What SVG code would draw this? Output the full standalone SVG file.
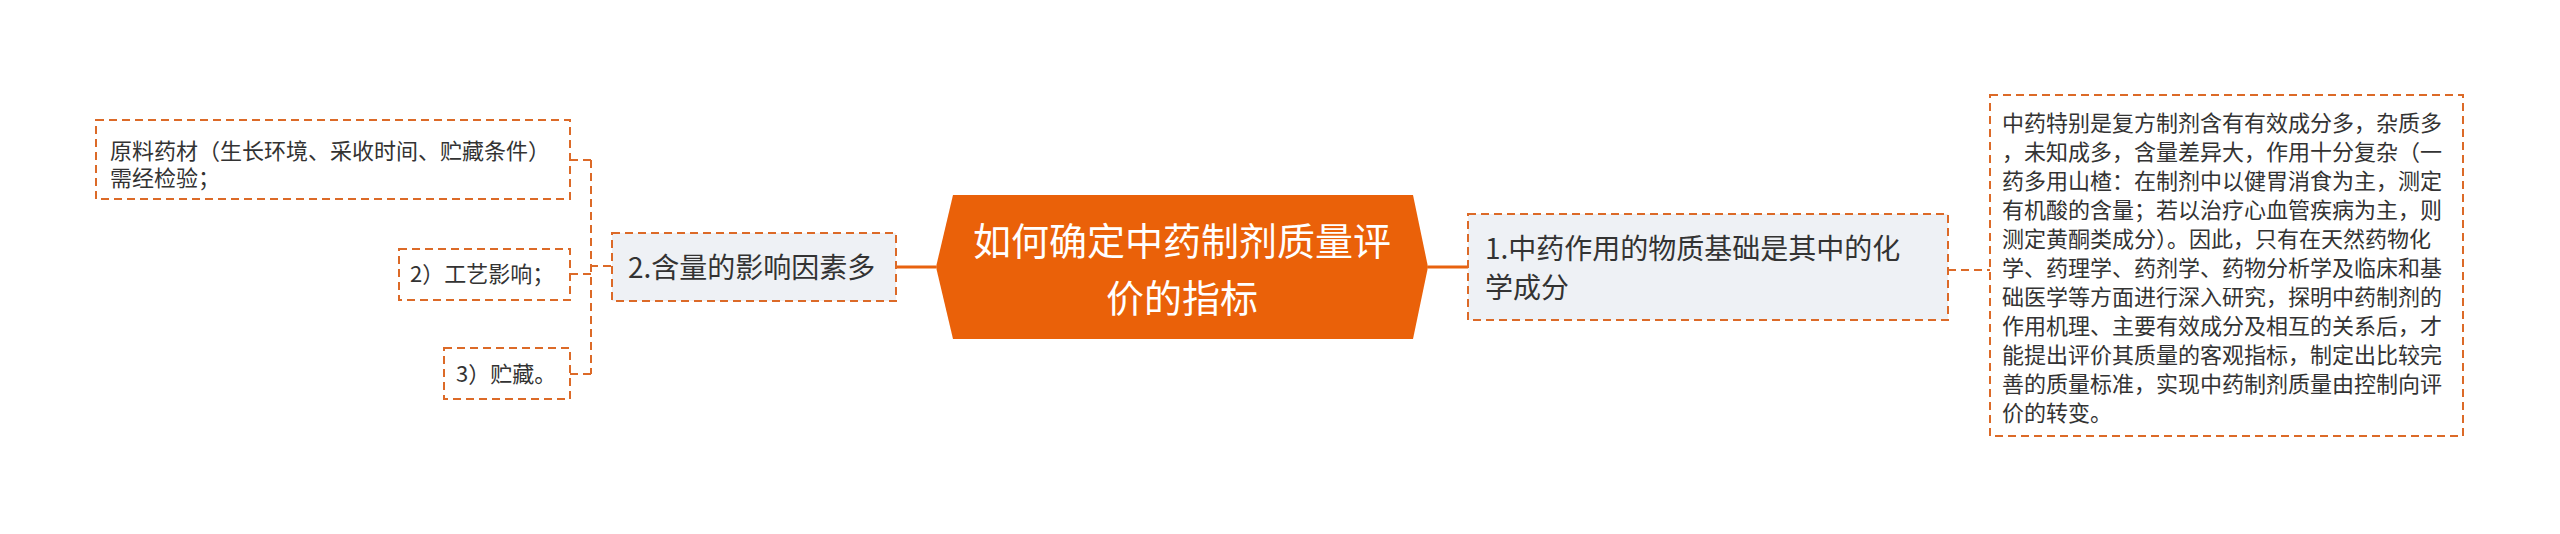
<svg xmlns="http://www.w3.org/2000/svg" width="2560" height="534" viewBox="0 0 2560 534">
<style>
.t{font-family:"Noto Sans CJK SC","Noto Sans",sans-serif;fill:#333333}
.box{fill:#ffffff;stroke:#DC6A28;stroke-width:2;stroke-dasharray:8 5}
.gbox{fill:#EEF1F5;stroke:#DC6A28;stroke-width:2;stroke-dasharray:8 5}
.solid{fill:none;stroke:#E8620E;stroke-width:3}
.dash{fill:none;stroke:#DC6A28;stroke-width:2;stroke-dasharray:8 5}
</style>
<rect width="2560" height="534" fill="#ffffff"/>
<g id="connectors">
<path class="solid" d="M936,267 H896"/>
<path class="solid" d="M1428,267 H1468"/>
<path class="dash" d="M611,266 H591"/>
<path class="dash" d="M591,160 V374"/>
<path class="dash" d="M570,160 H591"/>
<path class="dash" d="M570,274 H591"/>
<path class="dash" d="M570,374 H591"/>
<path class="dash" d="M1948,270 H1990"/>
</g>
<g id="center">
<polygon points="953,195 1413,195 1428,267 1413,339 953,339 936,267" fill="#EA6109"/>
<text class="t" x="1182" y="255" font-size="38" text-anchor="middle" style="fill:#ffffff">如何确定中药制剂质量评</text>
<text class="t" x="1182" y="312" font-size="38" text-anchor="middle" style="fill:#ffffff">价的指标</text>
</g>
<g id="node1">
<rect class="gbox" x="1468" y="214" width="480" height="106"/>
<text class="t" x="1485" y="259" font-size="28">1.中药作用的物质基础是其中的化</text>
<text class="t" x="1485" y="298" font-size="28">学成分</text>
</g>
<g id="node1-detail">
<rect class="box" x="1990" y="95" width="473" height="341"/>
<text class="t" font-size="22">
<tspan x="2002" y="131">中药特别是复方制剂含有有效成分多，杂质多</tspan>
<tspan x="2002" y="160">，未知成多，含量差异大，作用十分复杂（一</tspan>
<tspan x="2002" y="189">药多用山楂：在制剂中以健胃消食为主，测定</tspan>
<tspan x="2002" y="218">有机酸的含量；若以治疗心血管疾病为主，则</tspan>
<tspan x="2002" y="247">测定黄酮类成分）。因此，只有在天然药物化</tspan>
<tspan x="2002" y="276">学、药理学、药剂学、药物分析学及临床和基</tspan>
<tspan x="2002" y="305">础医学等方面进行深入研究，探明中药制剂的</tspan>
<tspan x="2002" y="334">作用机理、主要有效成分及相互的关系后，才</tspan>
<tspan x="2002" y="363">能提出评价其质量的客观指标，制定出比较完</tspan>
<tspan x="2002" y="392">善的质量标准，实现中药制剂质量由控制向评</tspan>
<tspan x="2002" y="421">价的转变。</tspan>
</text>
</g>
<g id="node2">
<rect class="gbox" x="612" y="233" width="284" height="68"/>
<text class="t" x="628" y="278" font-size="28">2.含量的影响因素多</text>
</g>
<g id="node2-1">
<rect class="box" x="96" y="120" width="474" height="79"/>
<text class="t" x="110" y="159" font-size="22">原料药材（生长环境、采收时间、贮藏条件）</text>
<text class="t" x="110" y="186" font-size="22">需经检验；</text>
</g>
<g id="node2-2">
<rect class="box" x="399" y="249" width="171" height="51"/>
<text class="t" x="410" y="282" font-size="22">2）工艺影响；</text>
</g>
<g id="node2-3">
<rect class="box" x="444" y="348" width="126" height="51"/>
<text class="t" x="456" y="382" font-size="22">3）贮藏。</text>
</g>
</svg>
